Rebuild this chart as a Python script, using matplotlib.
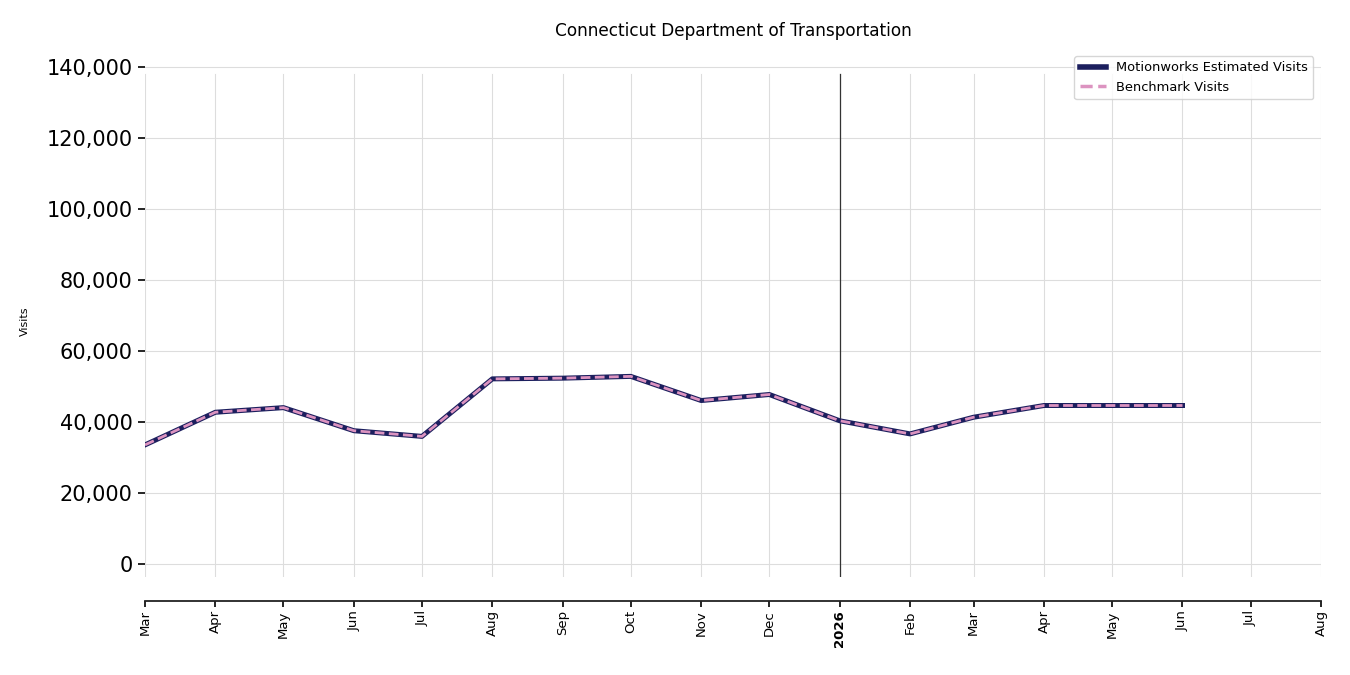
import datetime as dt

import numpy as np
import matplotlib
matplotlib.use('Agg')
import matplotlib.pyplot as plt
from matplotlib.ticker import FuncFormatter, FixedFormatter, FixedLocator
import matplotlib.dates as mdates

# monthly values
months = ['2025-03', '2025-04', '2025-05', '2025-06', '2025-07', '2025-08',
          '2025-09', '2025-10', '2025-11', '2025-12', '2026-01', '2026-02',
          '2026-03', '2026-04', '2026-05', '2026-06']
motionworks_visits = [33500, 42700, 44000, 37500, 35900, 52100, 52300, 52800,
                      46000, 47700, 40300, 36600, 41300, 44600, 44600, 44600]
benchmark_visits = [33500, 42700, 44000, 37500, 35900, 52100, 52300, 52800,
                    46000, 47700, 40300, 36600, 41300, 44600, 44600, 44600]
y_ticks = [0, 20000, 40000, 60000, 80000, 100000, 120000, 140000]
tick_months = ['2025-03', '2025-04', '2025-05', '2025-06', '2025-07', '2025-08',
               '2025-09', '2025-10', '2025-11', '2025-12', '2026-01', '2026-02',
               '2026-03', '2026-04', '2026-05', '2026-06', '2026-07', '2026-08']
year_marker = '2026-01'


def to_date(s):
    return dt.datetime.strptime(s + '-01', '%Y-%m-%d')


dates = [to_date(m) for m in months]
tick_dates = [to_date(m) for m in tick_months]

fig = plt.figure(figsize=(13.5, 6.75), dpi=100)
ax = fig.add_axes([0.1074, 0.1452, 0.8711, 0.7585])

ymin, ymax = -3700, 140500
grid_top = (138000 - ymin) / (ymax - ymin)

ax.plot(dates, motionworks_visits, color='#1c1f5e', lw=3.6,
        label='Motionworks Estimated Visits', zorder=3)
ax.plot(dates, benchmark_visits, color='#dc93c0', lw=2.0, ls=(0, (3.5, 1.6)),
        label='Benchmark Visits', zorder=4)

# vertical month grid (shorter than the y range, as in the reference)
for d in tick_dates:
    ax.axvline(d, ymin=0, ymax=grid_top, color='#dddddd', lw=0.8, zorder=1)
ax.axvline(to_date(year_marker), ymin=0, ymax=grid_top, color='#333333',
           lw=0.9, zorder=2)

ax.set_xlim(tick_dates[0], tick_dates[-1])
ax.set_ylim(ymin, ymax)

for s in ['top', 'right', 'left']:
    ax.spines[s].set_visible(False)
ax.spines['bottom'].set_position(('outward', 17))
ax.spines['bottom'].set_linewidth(1.3)
ax.spines['bottom'].set_color('#222222')

ax.set_yticks(y_ticks)
ax.yaxis.set_major_formatter(FuncFormatter(lambda v, p: '{:,.0f}'.format(v)))
ax.yaxis.grid(True, color='#dddddd', lw=0.8, zorder=1)
ax.set_axisbelow(True)

labels = []
for m, d in zip(tick_months, tick_dates):
    labels.append(d.strftime('%Y') if m == year_marker else d.strftime('%b'))
ax.xaxis.set_major_locator(FixedLocator(mdates.date2num(tick_dates)))
ax.xaxis.set_major_formatter(FixedFormatter(labels))

ax.tick_params(axis='y', labelsize=15, length=5, width=1.2, pad=4)
ax.tick_params(axis='x', labelsize=9.5, labelrotation=90, length=4, width=1.2, pad=3)

fig.canvas.draw()
for lab in ax.get_xticklabels():
    if lab.get_text() == year_marker[:4]:
        lab.set_fontweight('bold')

ax.set_ylabel('Visits', fontsize=8, labelpad=12)
ax.set_title('Connecticut Department of Transportation', fontsize=12.2, pad=21)

leg = ax.legend(loc='upper right', bbox_to_anchor=(0.999, 1.03), fontsize=9.4,
                frameon=True, fancybox=True, edgecolor='#cccccc', handlelength=2.0)
leg.get_lines()[0].set_linewidth(4)
leg.get_lines()[1].set_linewidth(2.5)

plt.savefig('out.png', dpi=100)
